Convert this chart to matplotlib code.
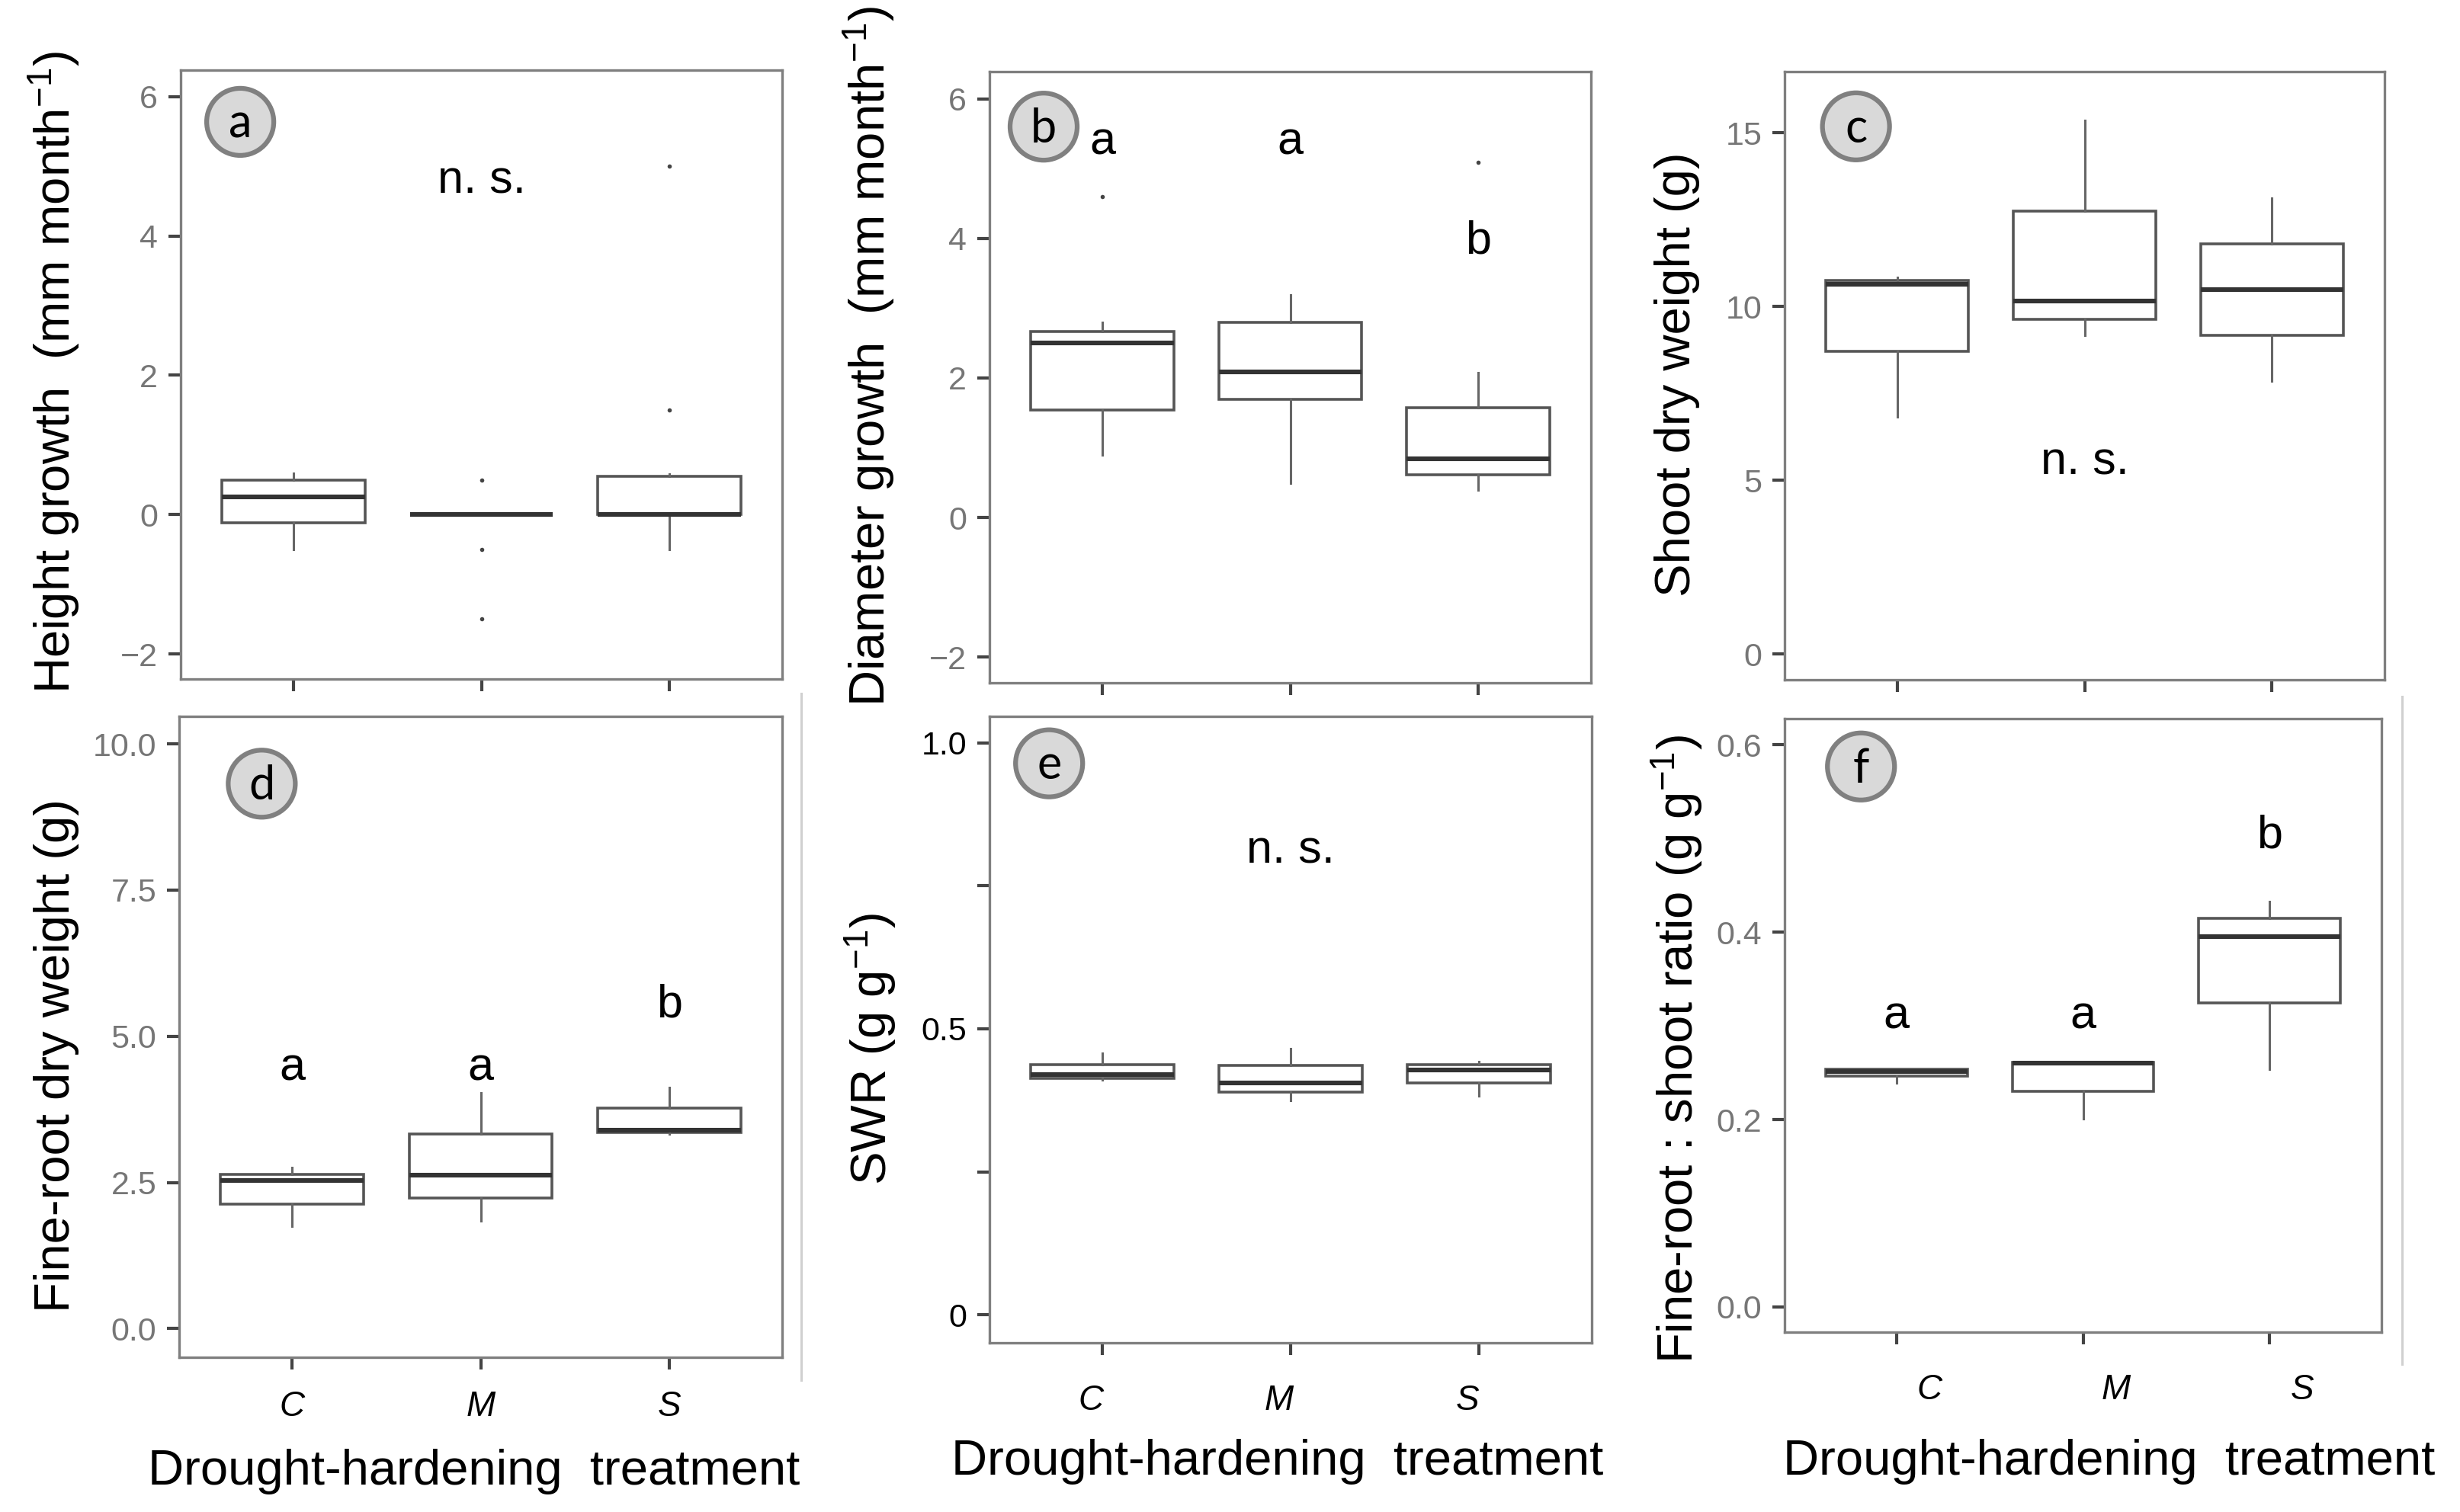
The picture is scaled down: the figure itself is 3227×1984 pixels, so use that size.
import matplotlib
matplotlib.use("Agg")
import matplotlib.pyplot as plt
from matplotlib.patches import Ellipse
from matplotlib.lines import Line2D

plt.rcParams['font.family'] = ['Liberation Sans', 'DejaVu Sans']
plt.rcParams['mathtext.fontset'] = 'custom'
plt.rcParams['mathtext.rm'] = 'Liberation Sans'
plt.rcParams['mathtext.default'] = 'regular'

W, H, DPI = 3227, 1984, 100

groups = ['C', 'M', 'S']

# (a) height growth
a_q1 = [-0.12, 0.0, 0.0]
a_med = [0.25, 0.0, 0.0]
a_q3 = [0.50, 0.0, 0.55]
a_lo = [-0.50, 0.0, -0.50]
a_hi = [0.59, 0.0, 0.58]
a_out = [[], [0.5, -0.5, -1.5], [1.5, 5.0]]

# (b) diameter growth
b_q1 = [1.54, 1.69, 0.61]
b_med = [2.50, 2.09, 0.84]
b_q3 = [2.66, 2.80, 1.57]
b_lo = [0.90, 0.49, 0.39]
b_hi = [2.80, 3.19, 2.08]
b_out = [[4.6], [], [5.09]]

# (c) shoot dry weight
c_q1 = [8.71, 9.64, 9.17]
c_med = [10.65, 10.15, 10.48]
c_q3 = [10.75, 12.75, 11.80]
c_lo = [6.82, 9.17, 7.86]
c_hi = [10.83, 15.36, 13.13]
c_out = [[], [], []]

# (d) fine-root dry weight
d_q1 = [2.13, 2.24, 3.35]
d_med = [2.53, 2.63, 3.40]
d_q3 = [2.64, 3.33, 3.77]
d_lo = [1.75, 1.84, 3.33]
d_hi = [2.76, 4.03, 4.12]
d_out = [[], [], []]

# (e) SWR
e_q1 = [0.413, 0.389, 0.405]
e_med = [0.420, 0.405, 0.428]
e_q3 = [0.437, 0.436, 0.437]
e_lo = [0.410, 0.374, 0.382]
e_hi = [0.457, 0.465, 0.443]
e_out = [[], [], []]

# (f) fine-root : shoot ratio
f_q1 = [0.246, 0.230, 0.3245]
f_med = [0.251, 0.260, 0.395]
f_q3 = [0.254, 0.261, 0.415]
f_lo = [0.239, 0.201, 0.254]
f_hi = [0.254, 0.261, 0.433]
f_out = [[], [], []]

fig = plt.figure(figsize=(W / DPI, H / DPI), dpi=DPI)


def make_ax(l, r, t, b):
    return fig.add_axes([l / W, 1 - b / H, (r - l) / W, (b - t) / H])


def stats(q1, med, q3, lo, hi, out):
    return [dict(q1=q1[i], med=med[i], q3=q3[i], whislo=lo[i], whishi=hi[i], fliers=out[i])
            for i in range(len(q1))]


def panel(rect, st, ylim, yticks, yticklabels, letter, circ, tick_color='#767676'):
    ax = make_ax(*rect)
    ax.bxp(st, positions=[1, 2, 3], widths=0.76, showcaps=False, patch_artist=True,
           boxprops=dict(facecolor='white', edgecolor='#555555', linewidth=2.6),
           medianprops=dict(color='#333333', linewidth=4.4, solid_capstyle='butt'),
           whiskerprops=dict(color='#666666', linewidth=2.2),
           flierprops=dict(marker='o', markersize=4, markerfacecolor='#444444',
                           markeredgecolor='none'))
    ax.set_xlim(0.4, 3.6)
    ax.set_ylim(*ylim)
    ax.set_yticks(yticks)
    ax.set_yticklabels(yticklabels)
    ax.set_xticks([1, 2, 3])
    ax.set_xticklabels([])
    for s in ax.spines.values():
        s.set_color('#7f7f7f')
        s.set_linewidth(2.4)
    ax.tick_params(axis='both', length=11.5, width=3, color='#444444', pad=10,
                   labelsize=31, labelcolor=tick_color)
    # panel letter in a grey circle
    aw = (rect[1] - rect[0])
    ah = (rect[3] - rect[2])
    ax.add_patch(Ellipse(circ, 88 / aw, 88 / ah, transform=ax.transAxes,
                         facecolor='#d9d9d9', edgecolor='#808080', linewidth=4.5, zorder=5))
    ax.text(circ[0], circ[1] - 0.004, letter, transform=ax.transAxes, ha='center', va='center',
            fontsize=44, family=['Lato', 'DejaVu Sans'], zorder=6)
    return ax


def cats(ax, y, dx):
    tr = ax.get_xaxis_transform()
    for i, g in enumerate(groups):
        ax.text(i + 1 + dx, y, g, transform=tr, ha='center', va='center',
                fontsize=33, style='italic')


ax_a = panel((237, 1026, 92, 891), stats(a_q1, a_med, a_q3, a_lo, a_hi, a_out),
             (-2.36, 6.38), [-2, 0, 2, 4, 6], ['−2', '0', '2', '4', '6'], 'a', (0.099, 0.915))
ax_a.text(2, 4.61, 'n. s.', ha='center', va='baseline', fontsize=44)

ax_b = panel((1298, 2087, 94, 896), stats(b_q1, b_med, b_q3, b_lo, b_hi, b_out),
             (-2.37, 6.39), [-2, 0, 2, 4, 6], ['−2', '0', '2', '4', '6'], 'b', (0.09, 0.91))
for x, lab, y in zip([1, 2, 3], ['a', 'a', 'b'], [5.2, 5.2, 3.79]):
    ax_b.text(x, y, lab, ha='center', va='baseline', fontsize=44)

ax_c = panel((2341, 3128, 94, 892), stats(c_q1, c_med, c_q3, c_lo, c_hi, c_out),
             (-0.74, 16.76), [0, 5, 10, 15], ['0', '5', '10', '15'], 'c', (0.119, 0.91))
ax_c.text(2, 5.18, 'n. s.', ha='center', va='baseline', fontsize=44)

ax_d = panel((235, 1026, 940, 1781), stats(d_q1, d_med, d_q3, d_lo, d_hi, d_out),
             (-0.49, 10.47), [0, 2.5, 5, 7.5, 10], ['0.0', '2.5', '5.0', '7.5', '10.0'],
             'd', (0.137, 0.895))
for x, lab, y in zip([1, 2, 3], ['a', 'a', 'b'], [4.25, 4.25, 5.33]):
    ax_d.text(x, y, lab, ha='center', va='baseline', fontsize=44)
cats(ax_d, -0.077, 0.0)

ax_e = panel((1298, 2088, 940, 1762), stats(e_q1, e_med, e_q3, e_lo, e_hi, e_out),
             (-0.049, 1.046), [0, 0.25, 0.5, 0.75, 1.0], ['0', '', '0.5', '', '1.0'],
             'e', (0.099, 0.925), tick_color='black')
ax_e.text(2, 0.79, 'n. s.', ha='center', va='baseline', fontsize=44)
cats(ax_e, -0.0925, -0.06)

ax_f = panel((2341, 3124, 943, 1748), stats(f_q1, f_med, f_q3, f_lo, f_hi, f_out),
             (-0.027, 0.628), [0, 0.2, 0.4, 0.6], ['0.0', '0.2', '0.4', '0.6'],
             'f', (0.128, 0.922))
for x, lab, y in zip([1, 2, 3], ['a', 'a', 'b'], [0.297, 0.297, 0.49]):
    ax_f.text(x, y, lab, ha='center', va='baseline', fontsize=44)
cats(ax_f, -0.094, 0.175)

# axis titles
ylabels = [
    (71, 489, r'Height growth  (mm month$^{-1}$)'),
    (1140, 468, r'Diameter growth  (mm month$^{-1}$)'),
    (2200, 491, 'Shoot dry weight (g)'),
    (74, 1385, 'Fine-root dry weight (g)'),
    (1142, 1377, r'SWR (g g$^{-1}$)'),
    (2200, 1377, r'Fine-root : shoot ratio (g g$^{-1}$)'),
]
for x, y, s in ylabels:
    fig.text(x / W, 1 - y / H, s, rotation=90, ha='center', va='center', fontsize=47)

for x, y in [(622, 1948), (1676, 1935), (2767, 1935)]:
    fig.text(x / W, 1 - y / H, 'Drought-hardening  treatment', ha='center', va='baseline',
             fontsize=47)

# thin separator lines left over from the panel layout
for x, y0, y1 in [(1051, 910, 1811), (3151, 914, 1790)]:
    fig.add_artist(Line2D([x / W, x / W], [1 - y0 / H, 1 - y1 / H], color='#d0d0d0',
                          linewidth=2.2, transform=fig.transFigure))

fig.savefig('out.png', dpi=DPI, facecolor='white')
